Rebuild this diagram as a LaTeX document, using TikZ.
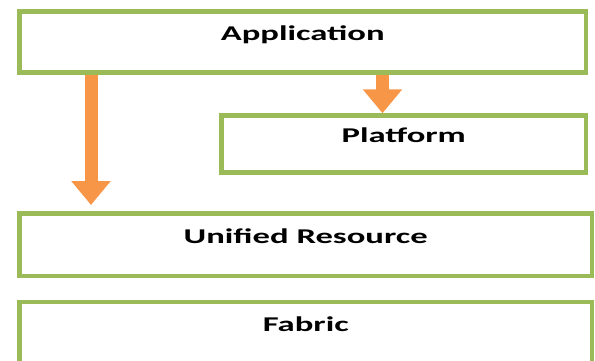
\documentclass[tikz,border=0pt]{standalone}
\usepackage{fontspec}
\newfontfamily\layerfont{Carlito}[FakeStretch=1.65]
\usetikzlibrary{arrows.meta,positioning}
\definecolor{LayerGreen}{HTML}{9BBB59}
\definecolor{LayerOrange}{HTML}{F79646}
\tikzset{
    % Green-framed layer boxes
    layer/.style={
        rectangle,
        draw=LayerGreen,
        line width=4.5pt,
        fill=white,
        text=black,
        minimum height=61pt,
        inner sep=0pt,
        outer sep=0pt,
        text height=13pt,
        text depth=16pt,
        font=\layerfont\bfseries\fontsize{21}{25}\selectfont
    },
    layer arrow/.style={
        -{Triangle[width=38pt,length=24pt]},
        line width=13pt,
        color=LayerOrange
    }
}

\begin{document}
\begin{tikzpicture}
    % Frame
    \useasboundingbox (0,0) rectangle (595pt,-360pt);

    % Layers
    \node[layer, minimum width=566.5pt, anchor=north west] (app) at (19.5pt,-11.5pt)
          {Application};
    \node[layer, minimum width=364.5pt, minimum height=57pt,
          below=43pt of app.south east, anchor=north east] (platform)
          {Platform};
    \node[layer, minimum width=572.5pt, minimum height=62.5pt,
          below=141pt of app.south west, anchor=north west] (unified)
          {Unified Resource};
    \node[layer, minimum width=572.5pt, minimum height=62.5pt,
          below=26pt of unified.south west, anchor=north west] (fabric)
          {Fabric};

    % Arrows
    \coordinate (left drop) at ([xshift=71.5pt]app.south west);
    \coordinate (right drop) at ([xshift=161pt]platform.north west);
    \draw[layer arrow, shorten <=2.25pt]
        (left drop) -- ([yshift=8.5pt]unified.north -| left drop);
    \draw[layer arrow, shorten <=2.25pt, shorten >=2.25pt]
        (app.south -| right drop) -- (platform.north -| right drop);
\end{tikzpicture}
\end{document}
